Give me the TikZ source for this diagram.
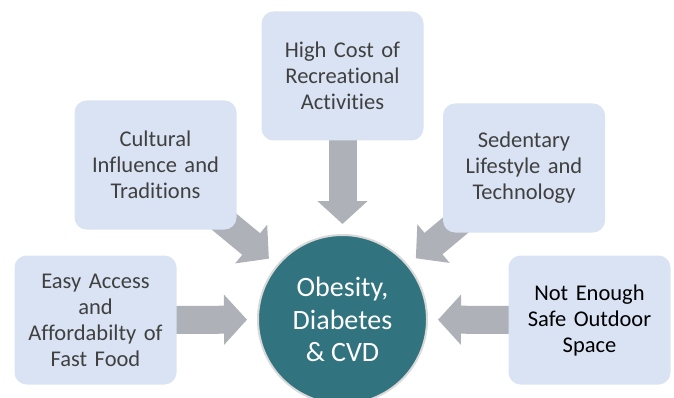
\documentclass[tikz,border=0pt]{standalone}
\usepackage{fontspec}
\setmainfont{Carlito}[Ligatures=NoCommon]
\definecolor{boxblue}{HTML}{DAE3F3}
\definecolor{boxtext}{HTML}{404040}
\definecolor{arrowgray}{HTML}{AEB1B7}
\definecolor{tealdark}{HTML}{31737F}
\definecolor{ringgray}{HTML}{D9D9D9}
\usetikzlibrary{arrows.meta, backgrounds}

\begin{document}
\begin{tikzpicture}[x=1pt, y=-1pt,
    factor/.style={rectangle, rounded corners=12pt, fill=boxblue,
                   minimum width=162pt, minimum height=129pt,
                   text width=154pt, align=center, text=boxtext,
                   font=\fontsize{22.5}{26}\selectfont},
    outcome/.style={circle, fill=tealdark, draw=ringgray,
                    line width=2pt, minimum size=169pt, inner sep=0pt,
                    align=center, text=white,
                    font=\fontsize{28}{32.5}\selectfont},
    push/.style={arrowgray, line width=28pt, shorten >=10pt,
                 -{Triangle[width=49pt, length=23pt]}}
  ]
    \useasboundingbox (0,0) rectangle (674,398);
    % Central outcome
    \node[outcome] (circ) at (342.5, 319.5) {Obesity,\\Diabetes\\\& CVD};
    % Contributing factors
    \node[factor] (cost) at (342.5, 76)  {High Cost of\\Recreational\\Activities};
    \node[factor] (cult) at (155.5, 165) {Cultural\\Influence and\\Traditions};
    \node[factor] (easy) at (95.5, 320)  {Easy Access\\and\\Affordabilty of\\Fast Food};
    \node[factor] (sed)  at (524, 168)   {Sedentary\\Lifestyle and\\Technology};
    \node[factor, text=black] (safe) at (589.5, 320) {Not Enough\\Safe Outdoor\\Space};

    % Block arrows behind the boxes
    \begin{scope}[on background layer]
      \draw[push] (cost.center) -- (circ);
      \draw[push] (cult.center) -- (circ);
      \draw[push] (easy.center) -- (circ);
      \draw[push] (sed.center)  -- (circ);
      \draw[push] (safe.center) -- (circ);
    \end{scope}
  \end{tikzpicture}
\end{document}
